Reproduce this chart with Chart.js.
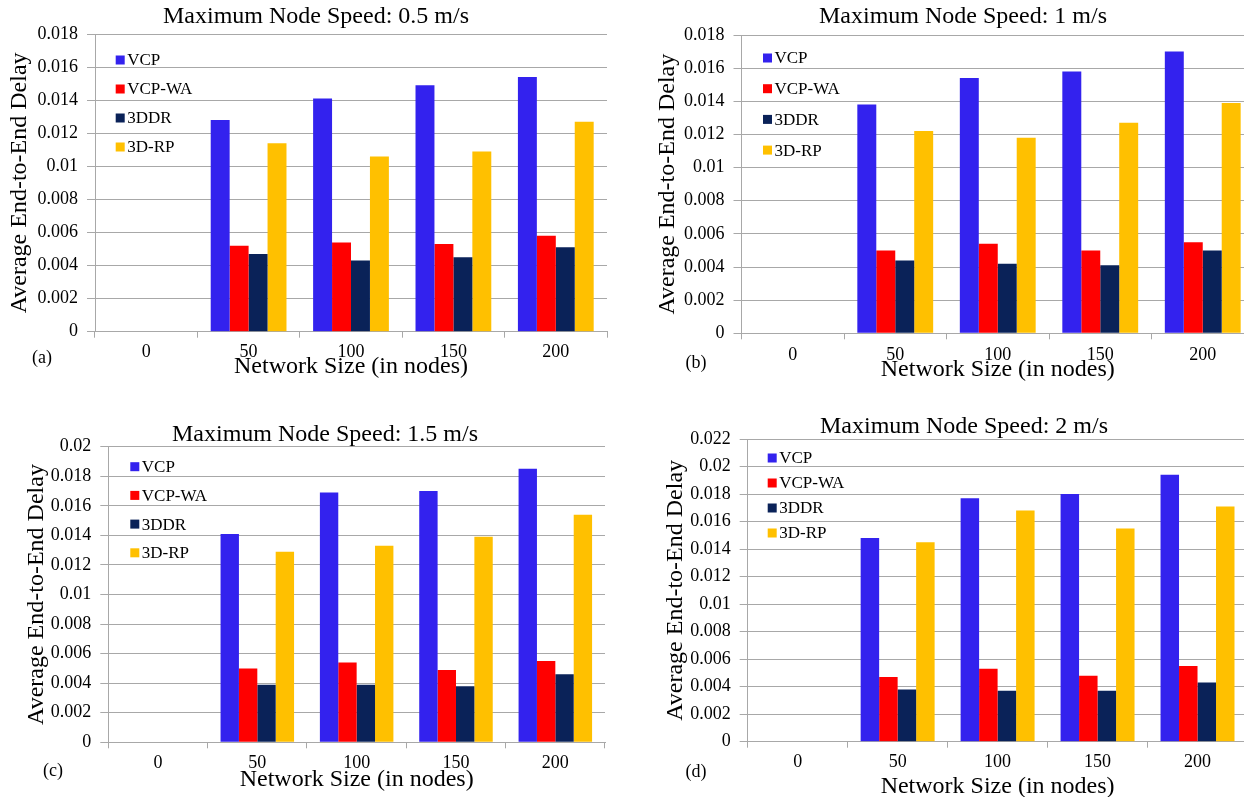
<!DOCTYPE html>
<html><head><meta charset="utf-8">
<script src="https://cdn.jsdelivr.net/npm/chart.js@4.4.1/dist/chart.umd.min.js"></script>
<style>
html,body{margin:0;padding:0;background:#fff;width:1244px;height:797px;overflow:hidden;position:relative;font-family:"Liberation Serif","Times New Roman",serif;color:#000}
canvas{position:absolute;}
.t{position:absolute;font-size:24px;line-height:24px;white-space:nowrap;transform:translateX(-50%);}
.p{position:absolute;font-size:18px;line-height:18px;white-space:nowrap;transform:translate(-50%,-50%);}
</style></head><body>
<canvas id="cA" width="620" height="390" style="left:0px;top:0px"></canvas>
<canvas id="cB" width="640" height="390" style="left:620px;top:0px"></canvas>
<canvas id="cC" width="620" height="420" style="left:0px;top:390px"></canvas>
<canvas id="cD" width="640" height="420" style="left:620px;top:390px"></canvas>
<div class="t" style="left:316px;top:3px">Maximum Node Speed: 0.5 m/s</div>
<div class="t" style="left:963px;top:3px">Maximum Node Speed: 1 m/s</div>
<div class="t" style="left:325px;top:421px">Maximum Node Speed: 1.5 m/s</div>
<div class="t" style="left:964px;top:413px">Maximum Node Speed: 2 m/s</div>
<div class="p" style="left:42px;top:357px">(a)</div>
<div class="p" style="left:696px;top:362px">(b)</div>
<div class="p" style="left:53px;top:770px">(c)</div>
<div class="p" style="left:696px;top:771px">(d)</div>
<script>
// ---- data ----
const categories = ['0', '50', '100', '150', '200'];
const seriesNames = ['VCP', 'VCP-WA', '3DDR', '3D-RP'];
const xAxisTitle = 'Network Size (in nodes)';
const yAxisTitle = 'Average End-to-End Delay';

// (a) Maximum Node Speed: 0.5 m/s
const vcpA   = [0, 0.0128, 0.0141, 0.0149, 0.0154];
const vcpwaA = [0, 0.0052, 0.0054, 0.0053, 0.0058];
const ddrA   = [0, 0.0047, 0.0043, 0.0045, 0.0051];
const rpA    = [0, 0.0114, 0.0106, 0.0109, 0.0127];
// (b) Maximum Node Speed: 1 m/s
const vcpB   = [0, 0.0138, 0.0154, 0.0158, 0.0170];
const vcpwaB = [0, 0.0050, 0.0054, 0.0050, 0.0055];
const ddrB   = [0, 0.0044, 0.0042, 0.0041, 0.0050];
const rpB    = [0, 0.0122, 0.0118, 0.0127, 0.0139];
// (c) Maximum Node Speed: 1.5 m/s
const vcpC   = [0, 0.0141, 0.0169, 0.0170, 0.0185];
const vcpwaC = [0, 0.0050, 0.0054, 0.0049, 0.0055];
const ddrC   = [0, 0.0039, 0.0039, 0.0038, 0.0046];
const rpC    = [0, 0.0129, 0.0133, 0.0139, 0.0154];
// (d) Maximum Node Speed: 2 m/s
const vcpD   = [0, 0.0148, 0.0177, 0.0180, 0.0194];
const vcpwaD = [0, 0.0047, 0.0053, 0.0048, 0.0055];
const ddrD   = [0, 0.0038, 0.0037, 0.0037, 0.0043];
const rpD    = [0, 0.0145, 0.0168, 0.0155, 0.0171];

// y tick values and labels
const yTicks18 = [0, 0.002, 0.004, 0.006, 0.008, 0.01, 0.012, 0.014, 0.016, 0.018];
const yLabels18 = ['0', '0.002', '0.004', '0.006', '0.008', '0.01', '0.012', '0.014', '0.016', '0.018'];
const yTicks20 = [0, 0.002, 0.004, 0.006, 0.008, 0.01, 0.012, 0.014, 0.016, 0.018, 0.02];
const yLabels20 = ['0', '0.002', '0.004', '0.006', '0.008', '0.01', '0.012', '0.014', '0.016', '0.018', '0.02'];
const yTicks22 = [0, 0.002, 0.004, 0.006, 0.008, 0.01, 0.012, 0.014, 0.016, 0.018, 0.02, 0.022];
const yLabels22 = ['0', '0.002', '0.004', '0.006', '0.008', '0.01', '0.012', '0.014', '0.016', '0.018', '0.02', '0.022'];

// ---- styles ----
const seriesColors = ['#3322ee', '#ff0000', '#0a2258', '#ffc000'];
const FAMILY = '"Liberation Serif", "Times New Roman", serif';
const gridColor = '#a8a8a8';

const insideLegend = {
  id: 'insideLegend',
  afterDatasetsDraw(chart, args, opts) {
    const { ctx, chartArea: a } = chart;
    ctx.save();
    ctx.font = '17px ' + FAMILY;
    ctx.textBaseline = 'middle';
    ctx.textAlign = 'left';
    chart.data.datasets.forEach((ds, i) => {
      const cy = a.top + opts.y0 + i * opts.gap;
      const x = a.left + opts.x;
      ctx.fillStyle = ds.backgroundColor;
      ctx.fillRect(x, cy - opts.box / 2, opts.box, opts.box);
      ctx.fillStyle = '#000';
      ctx.fillText(ds.label, x + opts.box + 2.5, cy + 1);
    });
    ctx.restore();
  }
};

function build(id, g, series, yTicks, yLabels) {
  const ctx = document.getElementById(id).getContext('2d');
  return new Chart(ctx, {
    type: 'bar',
    data: {
      labels: categories,
      datasets: series.map((d, i) => ({
        label: seriesNames[i], data: d, backgroundColor: seriesColors[i],
        borderWidth: 0, categoryPercentage: 0.74, barPercentage: 1.0
      }))
    },
    options: {
      responsive: false, animation: false, devicePixelRatio: 1,
      layout: { padding: { left: g.pl, top: g.pt, right: g.pr, bottom: g.pb } },
      plugins: {
        legend: { display: false }, tooltip: { enabled: false }, title: { display: false },
        insideLegend: { x: g.lx, y0: g.ly, gap: g.lg, box: 9 }
      },
      scales: {
        x: {
          grid: { display: true, drawOnChartArea: false, drawTicks: true, tickLength: 6, color: gridColor, offset: true },
          border: { display: true, color: gridColor, width: 1 },
          ticks: { font: { family: FAMILY, size: 18 }, color: '#000', padding: g.xtp, maxRotation: 0, autoSkip: false },
          title: { display: true, text: xAxisTitle, font: { family: FAMILY, size: 24 }, color: '#000', padding: { top: 0, bottom: 0 } },
          afterFit: s => { s.height = g.xh; }
        },
        y: {
          min: 0, max: yTicks[yTicks.length - 1],
          afterBuildTicks: s => { s.ticks = yTicks.map(v => ({ value: v })); },
          grid: { color: gridColor, tickLength: 8, drawTicks: true },
          border: { display: true, color: gridColor, width: 1 },
          ticks: { font: { family: FAMILY, size: 18 }, color: '#000', padding: 9, callback: (v, i) => yLabels[i] },
          title: { display: true, text: yAxisTitle, font: { family: FAMILY, size: 24 }, color: '#000', padding: { top: 0, bottom: 0 } },
          afterFit: s => { s.width = g.yw; }
        }
      }
    },
    plugins: [insideLegend]
  });
}

build('cA', { pl: 5.6, pt: 34, pr: 13, pb: 8.6, yw: 89.4, xh: 49.7, xtp: 3.5, lx: 20.7, ly: 26, lg: 29 },
  [vcpA, vcpwaA, ddrA, rpA], yTicks18, yLabels18);
build('cB', { pl: 33.6, pt: 35, pr: 6, pb: 5.6, yw: 87.9, xh: 51.1, xtp: 4.9, lx: 21.5, ly: 23, lg: 30.7 },
  [vcpB, vcpwaB, ddrB, rpB], yTicks18, yLabels18);
build('cC', { pl: 22.6, pt: 56.7, pr: 15, pb: 16, yw: 85.7, xh: 51.7, xtp: 4.4, lx: 22, ly: 20, lg: 28.7 },
  [vcpC, vcpwaC, ddrC, rpC], yTicks20, yLabels20);
build('cD', { pl: 41.6, pt: 49, pr: 12.5, pb: 8.6, yw: 86.1, xh: 59.7, xtp: 3.5, lx: 20, ly: 19, lg: 25 },
  [vcpD, vcpwaD, ddrD, rpD], yTicks22, yLabels22);
</script>
</body></html>
